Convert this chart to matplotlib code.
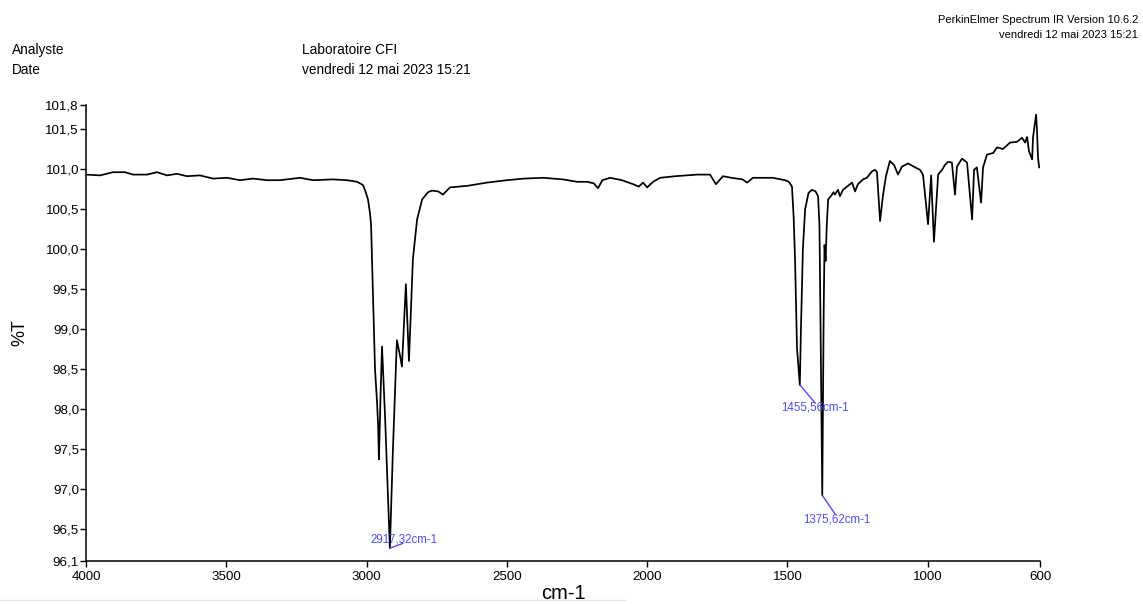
import matplotlib
matplotlib.use("Agg")
import matplotlib.pyplot as plt
from matplotlib.ticker import FuncFormatter, FixedLocator
from matplotlib.lines import Line2D

plt.rcParams['font.family'] = ['Liberation Sans', 'DejaVu Sans']

# Spectrum trace (wavenumber cm-1, %T)
wavenumber = [4000, 3950, 3904, 3861, 3832, 3783, 3747, 3711, 3676, 3640,
              3594, 3547, 3497, 3451, 3405, 3355, 3309, 3237, 3191, 3120,
              3070, 3034, 3013, 3006, 2995, 2988, 2984, 2977, 2970, 2963,
              2959, 2956, 2950, 2945, 2934, 2917, 2906, 2892, 2881, 2874,
              2860, 2849, 2835, 2820, 2802, 2781, 2767, 2745, 2728, 2703,
              2640, 2571, 2500, 2440, 2371, 2300, 2250, 2214, 2190, 2175,
              2160, 2132, 2090, 2050, 2030, 2015, 2000, 1979, 1954, 1900,
              1822, 1776, 1755, 1730, 1700, 1660, 1644, 1623, 1580, 1552,
              1509, 1495, 1484, 1478, 1473, 1470, 1466, 1456, 1452, 1445,
              1437, 1425, 1413, 1400, 1391, 1386, 1382, 1376, 1371, 1368,
              1364, 1360, 1355, 1341, 1336, 1331, 1320, 1313, 1302, 1270,
              1259, 1249, 1231, 1217, 1199, 1188, 1181, 1170, 1160, 1149,
              1135, 1120, 1106, 1092, 1070, 1045, 1028, 1017, 999, 988,
              978, 963, 949, 939, 928, 914, 903, 896, 878, 860,
              842, 835, 825, 810, 803, 789, 767, 753, 732, 707,
              682, 664, 653, 646, 639, 628, 625, 614, 611, 607, 603]
transmittance = [100.93, 100.92, 100.96, 100.96, 100.93, 100.93, 100.96, 100.92, 100.94, 100.91,
                 100.92, 100.88, 100.89, 100.86, 100.88, 100.86, 100.86, 100.89, 100.86, 100.87,
                 100.86, 100.84, 100.80, 100.74, 100.62, 100.45, 100.30, 99.38, 98.50, 98.10,
                 97.80, 97.37, 98.20, 98.78, 97.89, 96.26, 97.51, 98.86, 98.67, 98.53,
                 99.56, 98.60, 99.87, 100.37, 100.62, 100.71, 100.73, 100.72, 100.68, 100.77,
                 100.79, 100.83, 100.86, 100.88, 100.89, 100.87, 100.84, 100.84, 100.82, 100.76,
                 100.86, 100.89, 100.86, 100.81, 100.78, 100.83, 100.77, 100.84, 100.89, 100.91,
                 100.93, 100.93, 100.81, 100.91, 100.89, 100.87, 100.83, 100.89, 100.89, 100.89,
                 100.86, 100.84, 100.78, 100.40, 99.87, 99.38, 98.76, 98.30, 99.00, 100.00,
                 100.50, 100.70, 100.74, 100.72, 100.66, 100.30, 99.00, 96.92, 99.20, 100.05,
                 99.85, 100.30, 100.62, 100.68, 100.71, 100.68, 100.74, 100.66, 100.74, 100.83,
                 100.72, 100.81, 100.87, 100.89, 100.97, 100.99, 100.96, 100.35, 100.66, 100.91,
                 101.10, 101.05, 100.93, 101.03, 101.07, 101.02, 100.99, 100.93, 100.31, 100.92,
                 100.09, 100.93, 100.99, 101.05, 101.09, 101.08, 100.68, 101.03, 101.13, 101.08,
                 100.37, 100.99, 101.02, 100.58, 101.02, 101.18, 101.20, 101.27, 101.25, 101.33,
                 101.34, 101.39, 101.33, 101.40, 101.22, 101.12, 101.39, 101.68, 101.51, 101.14, 101.02]

# Peak labels
peak_wn = [2917.32, 1455.56, 1375.62]
peak_t = [96.26, 98.30, 96.92]
peak_labels = ["2917,32cm-1", "1455,56cm-1", "1375,62cm-1"]

x_ticks = [4000, 3500, 3000, 2500, 2000, 1500, 1000, 600]
y_ticks = [96.1, 96.5, 97.0, 97.5, 98.0, 98.5, 99.0, 99.5, 100.0, 100.5, 101.0, 101.5, 101.8]

fig = plt.figure(figsize=(11.43, 6.04), dpi=100)
ax = fig.add_axes([86 / 1143, 1 - 561 / 604, (1040 - 86) / 1143, (561 - 105) / 604])

ax.plot(wavenumber, transmittance, color='black', lw=1.25, solid_joinstyle='round')

ax.set_xlim(4000, 600)
ax.set_ylim(96.1, 101.8)
ax.xaxis.set_major_locator(FixedLocator(x_ticks))
ax.yaxis.set_major_locator(FixedLocator(y_ticks))
ax.xaxis.set_major_formatter(FuncFormatter(lambda v, p: f"{v:.0f}"))
ax.yaxis.set_major_formatter(FuncFormatter(lambda v, p: f"{v:.1f}".replace('.', ',')))
ax.tick_params(direction='out', length=4, width=1, labelsize=9.6, pad=1, colors='black')
ax.tick_params(axis='x', pad=3)
for s in ['top', 'right']:
    ax.spines[s].set_visible(False)
for s in ['left', 'bottom']:
    ax.spines[s].set_linewidth(1.1)

ax.set_xlabel("cm-1", fontsize=14.5, labelpad=1)
fig.text(20 / 1143, 1 - 333 / 604, "%T", fontsize=13, rotation=90, ha='center', va='center')

blue = '#4a4aff'
offsets = [((9.5, 3.5), (10, 6.5)), ((11, -13), (11, -16)), ((9.5, -14), (10.5, -17.5))]
for wn, t, lab, (lo, to) in zip(peak_wn, peak_t, peak_labels, offsets):
    ax.annotate("", xy=(wn, t), xytext=lo, textcoords='offset points',
                arrowprops=dict(arrowstyle='-', color=blue, lw=1, shrinkA=0, shrinkB=0))
    ax.annotate(lab, xy=(wn, t), xytext=to, textcoords='offset points',
                ha='center', va='center', fontsize=8.3, color=blue)

fig.text(12 / 1143, 1 - 50 / 604, "Analyste", fontsize=9.8, va='center', ha='left')
fig.text(12 / 1143, 1 - 70 / 604, "Date", fontsize=9.8, va='center', ha='left')
fig.text(302 / 1143, 1 - 50 / 604, "Laboratoire CFI", fontsize=9.8, va='center', ha='left')
fig.text(302 / 1143, 1 - 70 / 604, "vendredi 12 mai 2023 15:21", fontsize=9.8, va='center', ha='left')
fig.text(1138 / 1143, 1 - 20 / 604, "PerkinElmer Spectrum IR Version 10.6.2", fontsize=8, va='center', ha='right')
fig.text(1138 / 1143, 1 - 35 / 604, "vendredi 12 mai 2023 15:21", fontsize=8, va='center', ha='right')

fig.add_artist(Line2D([0, 625 / 1143], [1 - 600 / 604, 1 - 600 / 604], transform=fig.transFigure,
                      color='#e6e6e6', lw=1))

fig.savefig("out.png", dpi=100)
